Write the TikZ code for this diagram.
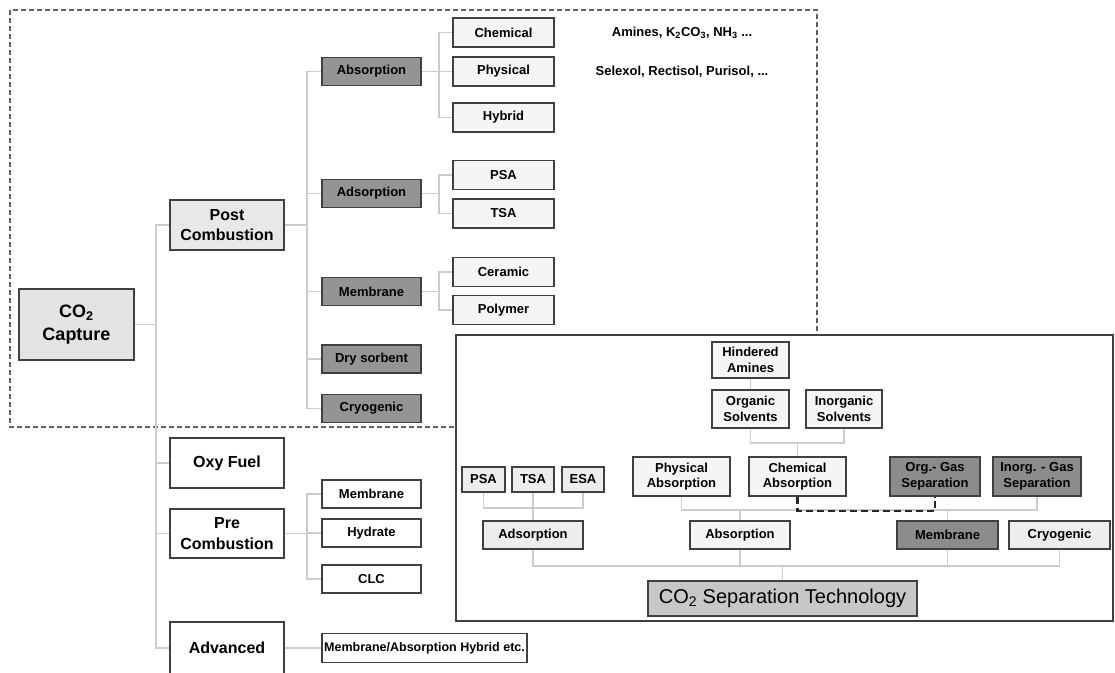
\documentclass[tikz,border=0pt]{standalone}
\usepackage{fontspec}
\setmainfont{Liberation Sans}
\begin{document}
\begin{tikzpicture}[x=1pt,y=-1pt,
  bx/.style={draw=black!75, line width=1.4pt, inner sep=0pt, align=center, text=black},
  f13/.style={font=\bfseries\fontsize{13}{15.5}\selectfont},
  f16/.style={font=\bfseries\fontsize{16}{20.5}\selectfont},
  dark/.style={fill=black!42},
  mid/.style={fill=black!22},
  lite/.style={fill=black!7},
  lite2/.style={fill=black!4},
  wht/.style={fill=white},
  conn/.style={draw=black!20, line width=1.2pt},
  dsh/.style={draw=black!85, line width=2.2pt, dash pattern=on 7pt off 4pt},
  grp/.style={draw=black!62, line width=2.8pt, dash pattern=on 5pt off 3pt},
]
\useasboundingbox (0,0) rectangle (1115,672);
\fill[white] (0,0) rectangle (1115,672);

% dashed post-combustion group
\draw[grp] (10,10) rectangle (817,427);

% ---- left tree nodes
\node[bx,f16,fill=black!11,minimum width=115,minimum height=71,font=\bfseries\fontsize{18}{23.5}\selectfont] (cap) at (76.5,324.5) {CO\textsubscript{2}\\Capture};
\node[bx,f16,fill=black!9,minimum width=114,minimum height=50] (post) at (227,225) {Post\\Combustion};
\node[bx,f16,wht,minimum width=114,minimum height=50] (oxy) at (227,463) {Oxy Fuel};
\node[bx,f16,wht,minimum width=114,minimum height=49] (pre) at (227,533.5) {Pre\\Combustion};
\node[bx,f16,wht,minimum width=114,minimum height=52] (adv) at (227,648) {Advanced};

\node[bx,f13,dark,minimum width=99,minimum height=28] (absn) at (371.5,71.5) {Absorption};
\node[bx,f13,dark,minimum width=99,minimum height=28] (adsn) at (371.5,193.5) {Adsorption};
\node[bx,f13,dark,minimum width=99,minimum height=28] (memn) at (371.5,291.5) {Membrane};
\node[bx,f13,dark,minimum width=99,minimum height=28] (dry) at (371.5,359) {Dry sorbent};
\node[bx,f13,dark,minimum width=99,minimum height=28] (cryn) at (371.5,408.5) {Cryogenic};

\node[bx,f13,wht,minimum width=99,minimum height=28] (pmem) at (371.5,494) {Membrane};
\node[bx,f13,wht,minimum width=99,minimum height=28] (phyd) at (371.5,533) {Hydrate};
\node[bx,f13,wht,minimum width=99,minimum height=28] (pclc) at (371.5,579) {CLC};

\node[bx,font=\bfseries\fontsize{12.5}{15}\selectfont,wht,minimum width=205,minimum height=29] (hyb) at (424.5,648) {Membrane/Absorption Hybrid etc.};

\node[bx,f13,lite2,minimum width=101,minimum height=29] (chem) at (503.5,32.5) {Chemical};
\node[bx,f13,lite2,minimum width=101,minimum height=29] (phys) at (503.5,71.5) {Physical};
\node[bx,f13,lite2,minimum width=101,minimum height=29] (hybr) at (503.5,117.5) {Hybrid};
\node[bx,f13,lite2,minimum width=101,minimum height=29] (psa) at (503.5,175) {PSA};
\node[bx,f13,lite2,minimum width=101,minimum height=29] (tsa) at (503.5,213.5) {TSA};
\node[bx,f13,lite2,minimum width=101,minimum height=29] (cer) at (503.5,272) {Ceramic};
\node[bx,f13,lite2,minimum width=101,minimum height=29] (pol) at (503.5,310) {Polymer};

\node[f13,inner sep=0pt] (amn) at (682,32.5) {Amines, K\textsubscript{2}CO\textsubscript{3}, NH\textsubscript{3} ...};
\node[f13,inner sep=0pt] (slx) at (682,72) {Selexol, Rectisol, Purisol, ...};

% ---- left tree connectors
\coordinate (t1) at (156,324.5);
\coordinate (t2) at (307,225);
\coordinate (t3) at (307,533.5);
\coordinate (t4) at (439,71.5);
\coordinate (t5) at (439,193.5);
\coordinate (t6) at (439,291.5);
\draw[conn] (cap.east) -- (t1) |- (post.west);
\draw[conn] (t1) |- (oxy.west);
\draw[conn] (t1) |- (pre.west);
\draw[conn] (t1) |- (adv.west);
\draw[conn] (post.east) -- (t2) |- (absn.west);
\draw[conn] (t2) |- (adsn.west);
\draw[conn] (t2) |- (memn.west);
\draw[conn] (t2) |- (dry.west);
\draw[conn] (t2) |- (cryn.west);
\draw[conn] (pre.east) -- (t3) |- (pmem.west);
\draw[conn] (t3) |- (phyd.west);
\draw[conn] (t3) |- (pclc.west);
\draw[conn] (adv.east) -- (hyb.west);
\draw[conn] (absn.east) -- (t4) |- (chem.west);
\draw[conn] (t4) |- (phys.west);
\draw[conn] (t4) |- (hybr.west);
\draw[conn] (adsn.east) -- (t5) |- (psa.west);
\draw[conn] (t5) |- (tsa.west);
\draw[conn] (memn.east) -- (t6) |- (cer.west);
\draw[conn] (t6) |- (pol.west);

% ---- right box: CO2 separation technology
\node[draw=black!75, line width=1.6pt, fill=white, minimum width=657, minimum height=286, inner sep=0pt] (rbox) at (784.5,478) {};

\node[bx,f13,lite2,minimum width=77,minimum height=36] (ha) at (750.5,360) {Hindered\\Amines};
\node[bx,f13,lite2,minimum width=77,minimum height=38] (os) at (750.5,409) {Organic\\Solvents};
\node[bx,f13,lite2,minimum width=76,minimum height=38] (is) at (844,409) {Inorganic\\Solvents};
\node[bx,f13,lite,minimum width=43,minimum height=25] (psa2) at (483.5,479.5) {PSA};
\node[bx,f13,lite,minimum width=42,minimum height=25] (tsa2) at (533,479.5) {TSA};
\node[bx,f13,lite,minimum width=42,minimum height=25] (esa2) at (583,479.5) {ESA};
\node[bx,f13,lite2,minimum width=97,minimum height=39] (phab) at (681.5,476.5) {Physical\\Absorption};
\node[bx,f13,lite2,minimum width=97,minimum height=39] (chab) at (797.5,476.5) {Chemical\\Absorption};
\node[bx,f13,fill=black!45,minimum width=90,minimum height=39] (org) at (935,476.5) {Org.- Gas\\Separation};
\node[bx,f13,fill=black!45,minimum width=88,minimum height=39] (inorg) at (1037,476.5) {Inorg. - Gas\\Separation};
\node[bx,f13,lite,minimum width=100,minimum height=28] (ads2) at (533,535) {Adsorption};
\node[bx,f13,lite2,minimum width=100,minimum height=28] (abs2) at (740,535) {Absorption};
\node[bx,f13,fill=black!45,minimum width=101,minimum height=28] (mem2) at (947.5,535) {Membrane};
\node[bx,f13,lite,minimum width=101,minimum height=28] (cry2) at (1059.5,535) {Cryogenic};
\node[bx,mid,minimum width=269,minimum height=35,font=\fontsize{20}{24}\selectfont] (sep) at (782.5,598.5) {CO\textsubscript{2} Separation Technology};

\coordinate (j1) at (797.5,443);
\coordinate (j2) at (533,508);
\coordinate (j3) at (740,510);
\coordinate (j4) at (947.5,510);
\coordinate (j5) at (782.5,566);
\draw[conn] (ha.south) -- (os.north);
\draw[conn] (os.south) |- (j1) -| (is.south);
\draw[conn] (chab.north) -- (j1);
\draw[conn] (psa2.south) |- (j2) -| (esa2.south);
\draw[conn] (tsa2.south) -- (ads2.north);
\draw[conn] (phab.south) |- (j3) -- (j4) -| (inorg.south);
\draw[conn] (abs2.north) -- (j3);
\draw[conn] (mem2.north) -- (j4);
\draw[conn] (ads2.south) |- (j5) -| (cry2.south);
\draw[conn] (abs2.south) -- (abs2.south |- j5);
\draw[conn] (mem2.south) -- (mem2.south |- j5);
\draw[conn] (sep.north) -- (j5);
\draw[dsh] (chab.south) -- ++(0,14) -| (org.south);
\end{tikzpicture}
\end{document}
